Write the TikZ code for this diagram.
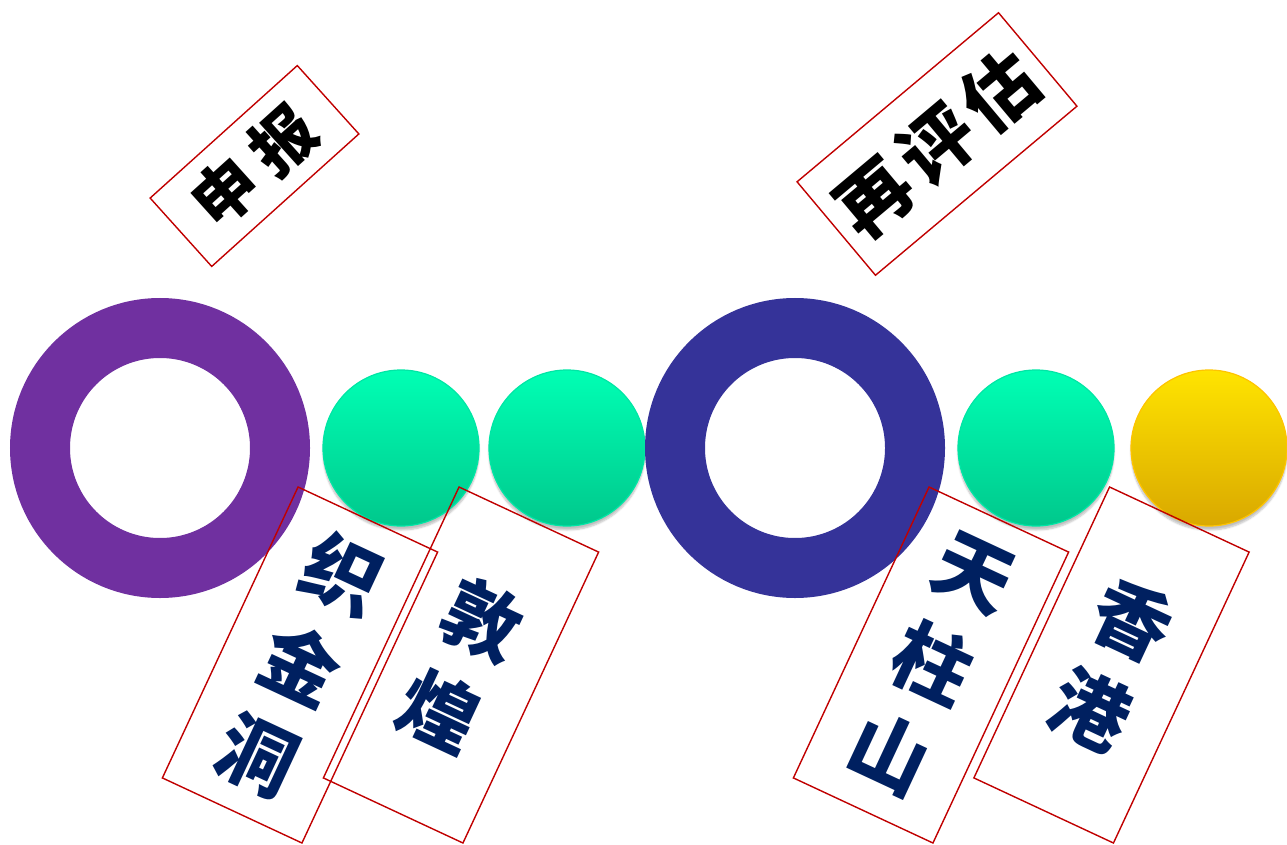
\documentclass[tikz,border=0pt]{standalone}
\usepackage{fontspec}
\newfontfamily\cjk{Noto Sans CJK SC}
\usetikzlibrary{shadows.blur}
\definecolor{ringpurple}{HTML}{7030A0}
\definecolor{ringblue}{HTML}{353399}
\definecolor{gtop}{HTML}{00FFB4}
\definecolor{gbot}{HTML}{00C88C}
\definecolor{gedge}{HTML}{00E6A5}
\definecolor{ytop}{HTML}{FFE400}
\definecolor{ybot}{HTML}{D9A800}
\definecolor{yedge}{HTML}{FFC400}
\definecolor{boxred}{HTML}{C00000}
\definecolor{navy}{HTML}{002060}
\tikzset{
  ring/.style={circle, draw=#1, line width=60pt, minimum size=240pt, inner sep=0pt},
  ball/.style={circle, minimum size=156pt, inner sep=0pt, line width=1.2pt,
    blur shadow={shadow xshift=0pt, shadow yshift=-4pt, shadow blur steps=6, shadow opacity=25}},
  greenball/.style={ball, draw=gedge, top color=gtop, bottom color=gbot},
  yellowball/.style={ball, draw=yedge, top color=ytop, bottom color=ybot},
  tagbox/.style={draw=boxred, line width=1.4pt, inner sep=0pt, align=center},
  toptag/.style={tagbox, text=black, font=\cjk\bfseries\fontsize{#1}{#1}\selectfont},
  sidetag/.style={tagbox, text=navy, minimum width=154pt, minimum height=321pt, rotate=-25,
    font=\cjk\bfseries\fontsize{78}{100}\selectfont}
}
\begin{document}
\begin{tikzpicture}[x=1pt, y=-1pt]
\useasboundingbox (0,0) rectangle (1287,845);
\node[ring=ringpurple] (r1) at (160,448) {};
\node[greenball] (g1) at (401,448) {};
\node[greenball] (g2) at (567,448) {};
\node[ring=ringblue] (r2) at (795,448) {};
\node[greenball] (g3) at (1036,448) {};
\node[yellowball] (y1) at (1209,448) {};

\node[toptag=64, minimum width=198pt, minimum height=92pt, rotate=42] (t1) at (254.5,166) {申\hspace{14pt}报};
\node[toptag=74, minimum width=263pt, minimum height=122pt, rotate=40] (t2) at (937,144) {再\hspace{8pt}评\hspace{8pt}估};

\node[sidetag] (s1) at (300,665) {织\\金\\洞};
\node[sidetag] (s2) at (461,665) {敦\\煌};
\node[sidetag] (s3) at (931,665) {天\\柱\\山};
\node[sidetag] (s4) at (1111.5,665) {香\\港};
\end{tikzpicture}
\end{document}
